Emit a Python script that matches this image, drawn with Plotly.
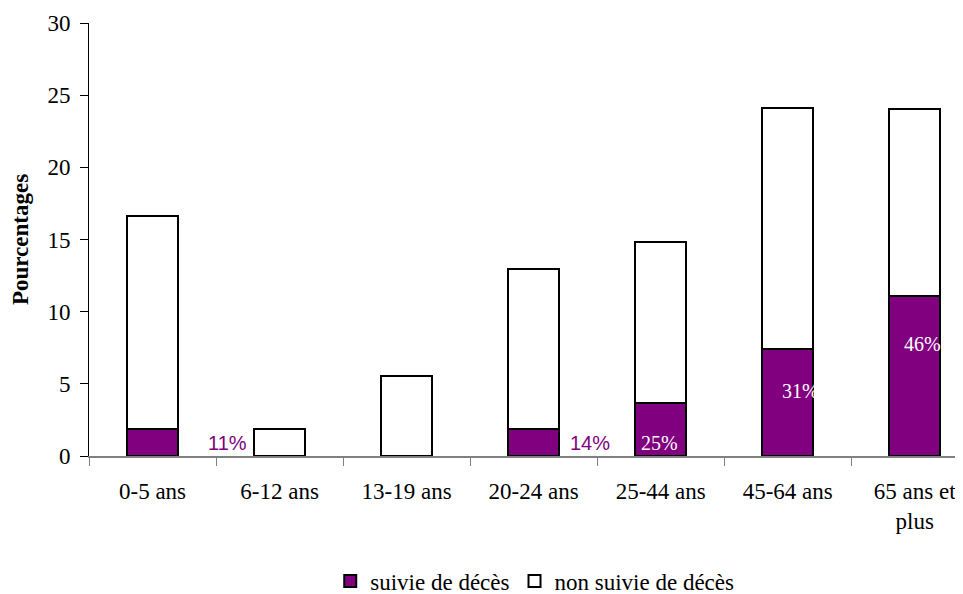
import plotly.graph_objects as go

categories = ["0-5 ans", "6-12 ans", "13-19 ans", "20-24 ans", "25-44 ans", "45-64 ans", "65 ans et<br>plus"]
suivie = [1.85, 0, 0, 1.85, 3.70, 7.41, 11.11]
non_suivie = [14.81, 1.85, 5.56, 11.11, 11.11, 16.67, 12.96]
labels = ["11%", "", "", "14%", "25%", "31%", "46%"]

PURPLE = "#800080"
SERIF = "Times New Roman, Liberation Serif, serif"
SANS = "Arial, Liberation Sans, sans-serif"

# label placement (style only)
label_inside = [False, False, False, False, True, True, True]
label_frac = [0.5, 0.5, 0.5, 0.5, 0.24, 0.61, 0.70]
label_xshift = [75, 0, 0, 56, -1, 13, 8]

fig = go.Figure()
fig.add_trace(go.Bar(
    x=categories, y=suivie, name="suivie de décès",
    marker=dict(color=PURPLE, line=dict(color="black", width=2)),
    width=0.4,
))
fig.add_trace(go.Bar(
    x=categories, y=non_suivie, name="non suivie de décès",
    marker=dict(color="white", line=dict(color="black", width=2)),
    width=0.4,
))

annotations = []
for i, lab in enumerate(labels):
    if not lab:
        continue
    inside = label_inside[i]
    annotations.append(dict(
        x=categories[i], y=suivie[i] * label_frac[i], xref="x", yref="y",
        text=lab, showarrow=False, xshift=label_xshift[i],
        font=dict(family=SERIF if inside else SANS, size=20,
                  color="white" if inside else PURPLE),
    ))

# page body has an 8px margin, so the figure is sized/offset to compensate
fig.update_layout(
    barmode="stack",
    width=955, height=586,
    margin=dict(l=81, r=0, t=15, b=138, autoexpand=False),
    paper_bgcolor="white", plot_bgcolor="white",
    font=dict(family=SERIF, size=23, color="black"),
    showlegend=True,
    legend=dict(orientation="h", x=0.51, xanchor="center", y=-0.289, yanchor="middle",
                font=dict(family=SERIF, size=23), itemwidth=30, traceorder="normal"),
    annotations=annotations,
)
fig.update_xaxes(
    automargin=False,
    showline=True, linecolor="#808080", linewidth=1.5,
    ticks="outside", tickson="boundaries", ticklen=8, tickcolor="#808080",
    showgrid=False, zeroline=False,
    range=[-0.5, 6.38],
    ticklabelstandoff=14,
    tickfont=dict(family=SERIF, size=23),
)
fig.update_yaxes(
    automargin=False,
    range=[0, 30], dtick=5, tick0=0,
    showline=True, linecolor="black", linewidth=1,
    ticks="outside", ticklen=8, tickcolor="black",
    showgrid=False, zeroline=False,
    ticklabelstandoff=5,
    title=dict(text="<b>Pourcentages</b>", font=dict(family=SERIF, size=23), standoff=16),
    tickfont=dict(family=SERIF, size=23),
)

fig.write_html("out.html")
